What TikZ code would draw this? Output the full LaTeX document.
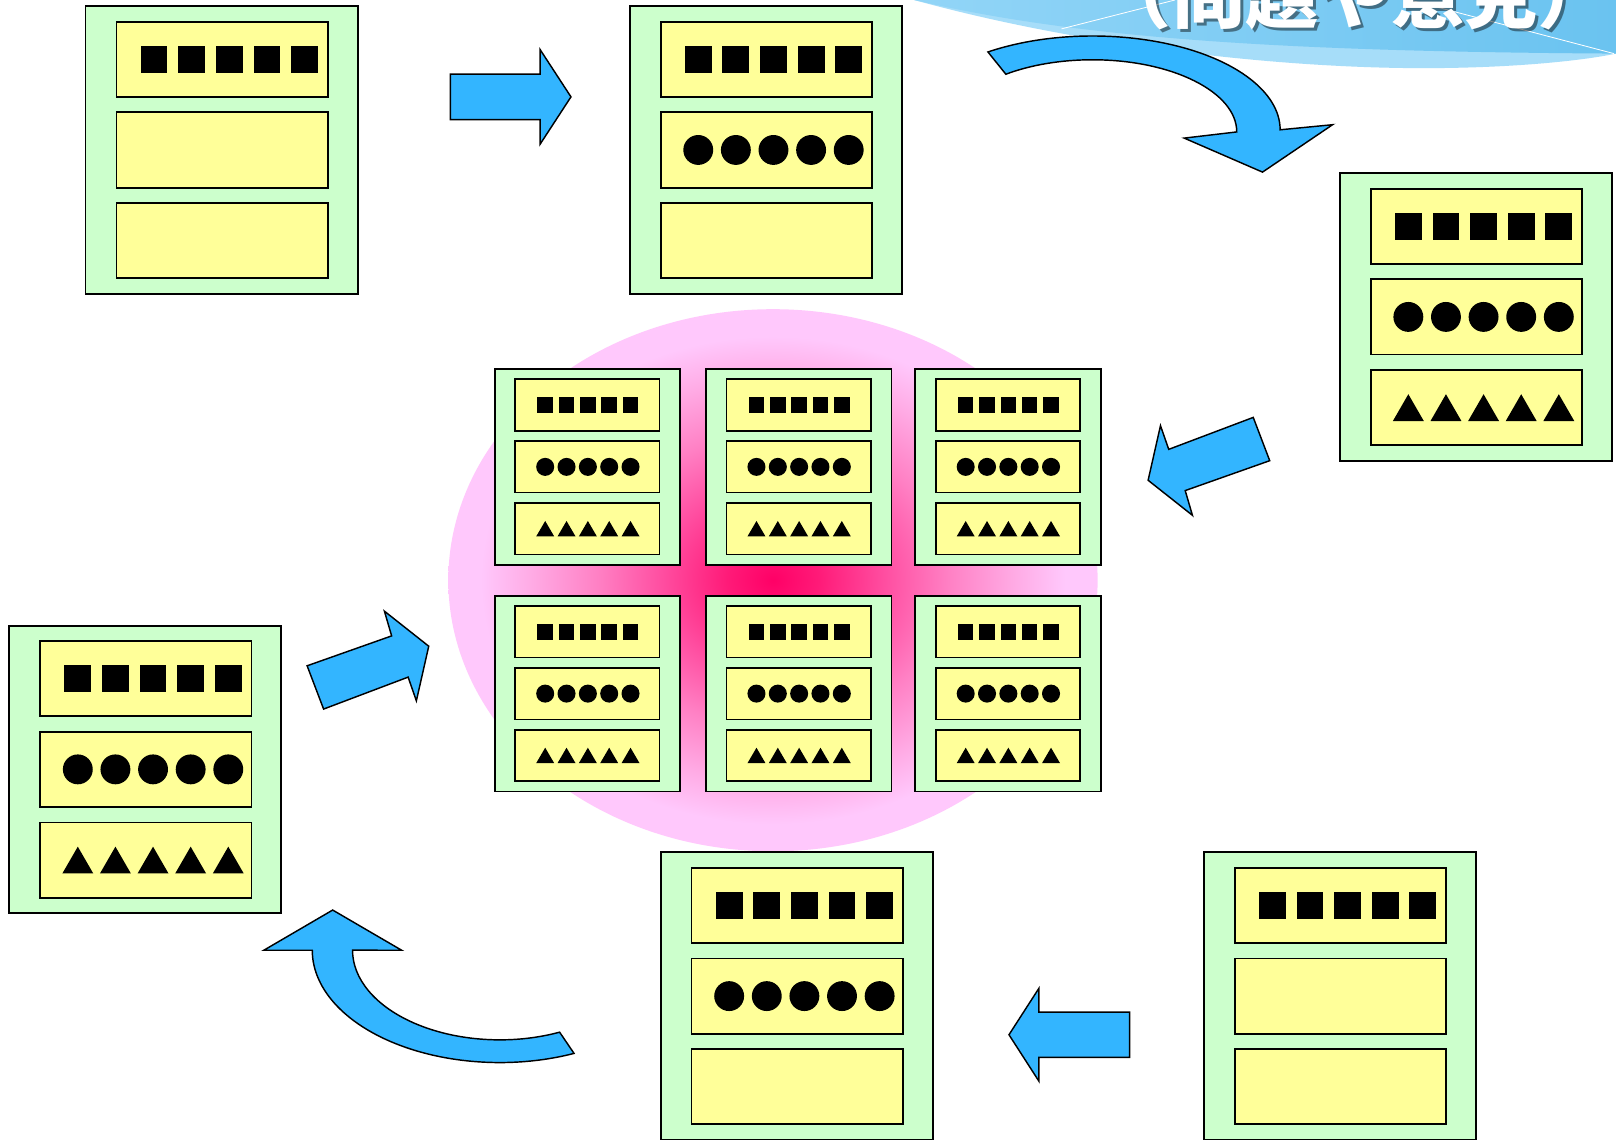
\documentclass[tikz,border=0pt]{standalone}
\usepackage{fontspec}
\newfontfamily\cjk{Noto Sans CJK JP}
\definecolor{boxgreen}{HTML}{CCFFCC}
\definecolor{boxyellow}{HTML}{FFFF99}
\definecolor{arrowblue}{HTML}{33B5FF}
\definecolor{pk0}{HTML}{FF0066}
\definecolor{pk1}{HTML}{FF1A78}
\definecolor{pk2}{HTML}{FF4DA0}
\definecolor{pk3}{HTML}{FF80C4}
\definecolor{pk4}{HTML}{FFAAE4}
\definecolor{pk5}{HTML}{FFC8FC}
\definecolor{banA}{HTML}{A6DDF9}
\definecolor{banB}{HTML}{92D5F7}
\definecolor{banC}{HTML}{6AC3F0}
\pgfdeclareradialshading{pinkglow}{\pgfpoint{0bp}{0bp}}{color(0bp)=(pk0); color(3.5bp)=(pk1); color(8.5bp)=(pk2); color(13.5bp)=(pk3); color(18.5bp)=(pk4); color(22.5bp)=(pk5); color(50bp)=(pk5)}
\tikzset{
  bigouter/.style={draw=black, line width=1.8pt, fill=boxgreen, minimum width=264pt, minimum height=279pt, inner sep=0pt, outer sep=0pt, anchor=north west},
  bigrow/.style={draw=black, line width=1.8pt, fill=boxyellow, minimum width=205pt, minimum height=73pt, inner sep=0pt, outer sep=0pt, anchor=north west},
  smallouter/.style={draw=black, line width=1.6pt, fill=boxgreen, minimum width=180pt, minimum height=190pt, inner sep=0pt, outer sep=0pt, anchor=north west},
  smallrow/.style={draw=black, line width=1.6pt, fill=boxyellow, minimum width=140pt, minimum height=50pt, inner sep=0pt, outer sep=0pt, anchor=north west},
  blockarrow/.style={draw=black, line width=1.4pt, fill=arrowblue, line join=miter},
  titletext/.style={anchor=base west, inner sep=0pt, font=\cjk\bfseries\fontsize{71}{71}\selectfont}
}
% symbol rows: xfirst, ycenter (downwards), spacing, size
\newcommand\sqrow[4]{\foreach \k in {0,...,4}{\fill ({(#1)+\k*(#3)-(#4)/2},{-(#2)-(#4)/2}) rectangle ++(#4,#4);}}
\newcommand\circrow[4]{\foreach \k in {0,...,4}{\fill ({(#1)+\k*(#3)},{-(#2)}) circle[radius={(#4)/2*1pt}];}}
\newcommand\trirow[5]{\foreach \k in {0,...,4}{\fill ({(#1)+\k*(#3)-(#4)/2},{-(#2)-(#5)/2}) -- ++(#4,0) -- ++({-(#4)/2},#5) -- cycle;}}
\newcommand\bgsq[3]{\sqrow{#1+66.5}{#2+51.5+88*#3}{36.5}{26}}
\newcommand\bgci[3]{\circrow{#1+66.5}{#2+51.5+88*#3}{36.5}{29}}
\newcommand\bgtr[3]{\trirow{#1+66.5}{#2+51.5+88*#3}{36.5}{30}{26}}
\newcommand\smsq[3]{\sqrow{#1+49}{#2+35+60*#3}{20.7}{15}}
\newcommand\smci[3]{\circrow{#1+49}{#2+35+60*#3}{20.7}{17.5}}
\newcommand\smtr[3]{\trirow{#1+49}{#2+35+60*#3}{20.7}{17.5}{15}}
\newcommand\bigbox[3]{%
  \node[bigouter] (#1) at (#2,-#3) {};
  \node[bigrow] (#1r1) at ({#2+30},{-#3-15}) {};
  \node[bigrow] (#1r2) at ({#2+30},{-#3-103}) {};
  \node[bigrow] (#1r3) at ({#2+30},{-#3-191}) {};}
\newcommand\smallbox[3]{%
  \node[smallouter] (#1) at (#2,-#3) {};
  \node[smallrow] (#1r1) at ({#2+20},{-#3-10}) {};
  \node[smallrow] (#1r2) at ({#2+20},{-#3-70}) {};
  \node[smallrow] (#1r3) at ({#2+20},{-#3-130}) {};
  \smsq{#2}{#3}{0}\smci{#2}{#3}{1}\smtr{#2}{#3}{2}}
\begin{document}
\begin{tikzpicture}[x=1pt,y=1pt]
\useasboundingbox (0,0) rectangle (1568,-1106);
\clip (0,0) rectangle (1568,-1106);
\fill[white] (0,0) rectangle (1568,-1106);
% banner
\fill[banA] (887,0) .. controls (1050,-45) and (1250,-68) .. (1400,-66) .. controls (1480,-65) and (1540,-58) .. (1568,-52) -- (1568,0) -- cycle;
\shade[left color=banB, right color=banC] (887,0) .. controls (1050,-38) and (1250,-50) .. (1568,-52) -- (1568,0) -- cycle;
\draw[white, line width=0.8pt] (1030,-28) -- (1140,0);
\draw[white, line width=0.8pt] (1368,0) -- (1566,-52);
\node[titletext, text=black, opacity=0.45] (titleshadow) at (1069,-25) {（問題や意見）};
\node[titletext, text=white] (title) at (1066,-22) {（問題や意見）};
% pink glow
\shade[shading=pinkglow] (750,-563) ellipse[x radius=315pt, y radius=263pt];
% big boxes
\bigbox{A}{83}{6}
\bgsq{83}{6}{0}
\bigbox{B}{611}{6}
\bgsq{611}{6}{0}\bgci{611}{6}{1}
\bigbox{C}{1300}{168}
\bgsq{1300}{168}{0}\bgci{1300}{168}{1}\bgtr{1300}{168}{2}
\bigbox{D}{9}{607}
\bgsq{9}{607}{0}\bgci{9}{607}{1}\bgtr{9}{607}{2}
\bigbox{E}{641}{827}
\bgsq{641}{827}{0}\bgci{641}{827}{1}
\bigbox{F}{1168}{827}
\bgsq{1168}{827}{0}
% small boxes
\smallbox{G1}{480}{358}
\smallbox{G2}{685}{358}
\smallbox{G3}{888}{358}
\smallbox{G4}{480}{578}
\smallbox{G5}{685}{578}
\smallbox{G6}{888}{578}
% arrows
\draw[blockarrow] (437,-72) -- (524,-72) -- (524,-48) -- (554,-94) -- (524,-140) -- (524,-116) -- (437,-116) -- cycle;
\draw[blockarrow] (958.6,-50.4) arc[start angle=123.9, end angle=0, x radius=182pt, y radius=91pt]
  -- (1293,-121) -- (1225,-167) -- (1149,-134) -- (1200,-128)
  arc[start angle=0, end angle=126.9, x radius=140pt, y radius=70pt] -- cycle;
\draw[blockarrow] (1216,-405) -- (1232,-447) -- (1150,-476) -- (1157,-500) -- (1114,-466) -- (1126,-413) -- (1134,-436) -- cycle;
\draw[blockarrow] (314,-688) -- (298,-646) -- (380,-617) -- (373,-593) -- (416,-627) -- (404,-680) -- (396,-657) -- cycle;
\draw[blockarrow] (1096,-982) -- (1008,-982) -- (1008,-959) -- (979,-1004) -- (1008,-1049) -- (1008,-1026) -- (1096,-1026) -- cycle;
\draw[blockarrow] (303,-922) arc[start angle=180, end angle=293.3, x radius=182pt, y radius=109pt]
  -- (543,-1001.5) arc[start angle=293.9, end angle=180, x radius=143pt, y radius=87pt]
  -- (389.7,-922) -- (322.8,-883) -- (256,-922) -- cycle;
\end{tikzpicture}
\end{document}
